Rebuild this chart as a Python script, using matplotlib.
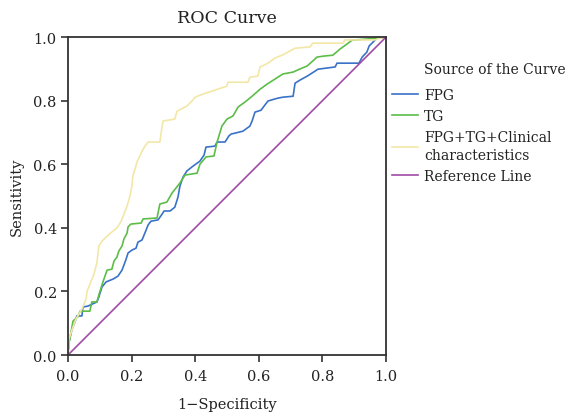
import matplotlib
matplotlib.use("Agg")
import matplotlib.pyplot as plt

# curva FPG (1-especificidad, sensibilidad)
fpg_x = [0, 0.003, 0.013, 0.022, 0.028, 0.044, 0.047, 0.063, 0.091, 0.097, 0.107, 0.12, 0.142,
         0.157, 0.17, 0.182, 0.189, 0.201, 0.214, 0.22, 0.233, 0.242, 0.252, 0.261, 0.283, 0.296,
         0.302, 0.321, 0.336, 0.346, 0.352, 0.362, 0.374, 0.393, 0.415, 0.428, 0.434, 0.462, 0.469,
         0.494, 0.506, 0.513, 0.55, 0.572, 0.579, 0.588, 0.607, 0.619, 0.629, 0.66, 0.676, 0.708,
         0.714, 0.73, 0.752, 0.777, 0.786, 0.84, 0.846, 0.915, 0.925, 0.94, 0.947, 0.959, 0.972,
         0.987, 1.0]
fpg_y = [0, 0.041, 0.082, 0.104, 0.123, 0.123, 0.151, 0.154, 0.167, 0.182, 0.214, 0.23, 0.239,
         0.248, 0.267, 0.299, 0.321, 0.33, 0.336, 0.355, 0.362, 0.384, 0.409, 0.421, 0.425, 0.443,
         0.453, 0.453, 0.465, 0.497, 0.531, 0.56, 0.579, 0.594, 0.61, 0.629, 0.654, 0.657, 0.67,
         0.67, 0.689, 0.695, 0.704, 0.72, 0.736, 0.764, 0.77, 0.786, 0.799, 0.808, 0.811, 0.814,
         0.855, 0.865, 0.877, 0.893, 0.899, 0.906, 0.918, 0.918, 0.937, 0.953, 0.972, 0.984, 0.997,
         1.0, 1.0]

# curva TG
tg_x = [0, 0.003, 0.016, 0.031, 0.038, 0.069, 0.075, 0.091, 0.10, 0.11, 0.123, 0.138, 0.145,
        0.154, 0.16, 0.17, 0.176, 0.186, 0.189, 0.198, 0.23, 0.236, 0.28, 0.289, 0.311, 0.327,
        0.352, 0.368, 0.406, 0.415, 0.434, 0.459, 0.469, 0.484, 0.50, 0.519, 0.535, 0.557, 0.579,
        0.604, 0.626, 0.651, 0.676, 0.708, 0.73, 0.752, 0.77, 0.783, 0.802, 0.833, 0.855, 0.877,
        0.893, 0.975, 1.0]
tg_y = [0, 0.035, 0.107, 0.12, 0.138, 0.138, 0.167, 0.167, 0.198, 0.23, 0.267, 0.27, 0.296,
        0.308, 0.327, 0.343, 0.365, 0.384, 0.403, 0.412, 0.415, 0.428, 0.431, 0.475, 0.481, 0.509,
        0.541, 0.566, 0.572, 0.60, 0.623, 0.626, 0.67, 0.72, 0.742, 0.752, 0.78, 0.796, 0.814,
        0.836, 0.852, 0.868, 0.884, 0.89, 0.90, 0.909, 0.925, 0.937, 0.94, 0.943, 0.962, 0.978,
        0.99, 0.997, 1.0]

# curva FPG+TG+caracteristicas clinicas
comb_x = [0, 0.003, 0.013, 0.025, 0.044, 0.057, 0.06, 0.072, 0.082, 0.091, 0.097, 0.107, 0.12,
          0.138, 0.154, 0.167, 0.176, 0.186, 0.195, 0.201, 0.204, 0.211, 0.217, 0.226, 0.233,
          0.242, 0.252, 0.289, 0.296, 0.299, 0.336, 0.343, 0.374, 0.39, 0.40, 0.425, 0.453, 0.50,
          0.503, 0.566, 0.572, 0.597, 0.604, 0.629, 0.651, 0.673, 0.692, 0.714, 0.761, 0.77, 0.865,
          0.871, 0.965, 0.981, 1.0]
comb_y = [0, 0.05, 0.08, 0.113, 0.145, 0.176, 0.20, 0.23, 0.255, 0.29, 0.343, 0.358, 0.371,
          0.387, 0.40, 0.42, 0.443, 0.469, 0.50, 0.531, 0.563, 0.585, 0.607, 0.626, 0.641, 0.657,
          0.67, 0.67, 0.72, 0.736, 0.742, 0.767, 0.783, 0.799, 0.811, 0.821, 0.83, 0.846, 0.858,
          0.858, 0.874, 0.877, 0.906, 0.918, 0.934, 0.943, 0.953, 0.965, 0.969, 0.981, 0.981,
          0.991, 0.991, 0.997, 1.0]

ref_x = [0, 1]
ref_y = [0, 1]

etiquetas = ["FPG", "TG", "FPG+TG+Clinical\ncharacteristics", "Reference Line"]
colores = ["#3a72c8", "#5cbd48", "#f3e7a6", "#a04ca6"]

plt.rcParams['font.family'] = ['DejaVu Serif']
plt.rcParams['font.size'] = 10.5

fig = plt.figure(figsize=(5.71, 4.14), dpi=100)
ax = fig.add_axes([0.119, 0.140, 0.557, 0.768])

series = [(fpg_x, fpg_y), (tg_x, tg_y), (comb_x, comb_y), (ref_x, ref_y)]
for (xs, ys), etq, col in zip(series, etiquetas, colores):
    ax.plot(xs, ys, color=col, lw=1.2, label=etq)

ax.set_xlim(0, 1)
ax.set_ylim(0, 1)
ticks = [0.0, 0.2, 0.4, 0.6, 0.8, 1.0]
ax.set_xticks(ticks)
ax.set_yticks(ticks)
ax.set_xticklabels([f"{t:.1f}" for t in ticks])
ax.set_yticklabels([f"{t:.1f}" for t in ticks])
ax.tick_params(direction='out', length=5, width=1.1, colors='#222222', labelcolor='#222222')
ax.tick_params(axis='x', pad=5)
ax.tick_params(axis='y', pad=3)
for sp in ax.spines.values():
    sp.set_linewidth(1.3)
    sp.set_color('#333333')

ax.set_xlabel("1\u2212Specificity", labelpad=10, color='#222222')
ax.set_ylabel("Sensitivity", labelpad=7, color='#222222')
ax.set_title("ROC Curve", pad=11, color='#222222')

fig.text(424 / 571, 1 - 70 / 414, "Source of the Curve", va='center', ha='left',
         color='#222222', fontsize=10)
leg = fig.legend(loc='upper left', bbox_to_anchor=(392 / 571, 1 - 89 / 414), frameon=False,
                 borderpad=0, borderaxespad=0, handlelength=1.9, handletextpad=0.4,
                 labelspacing=0.5, labelcolor='#222222', fontsize=10)
for t in leg.get_texts():
    t.set_linespacing(1.4)

fig.savefig("out.png", dpi=100)
plt.close(fig)
